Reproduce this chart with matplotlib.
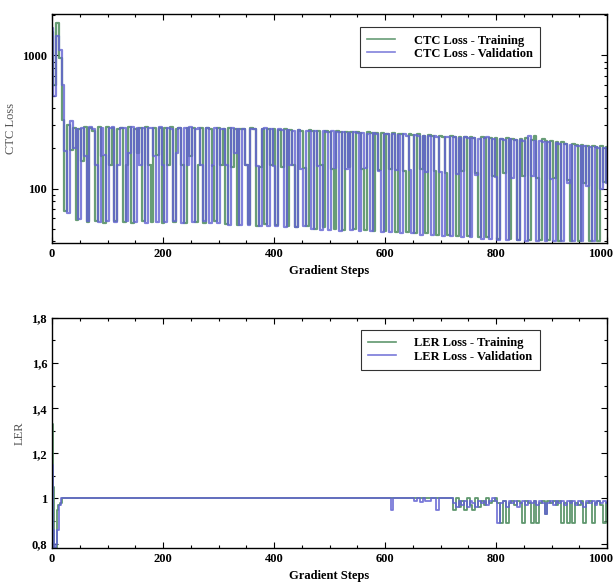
import numpy as np
import matplotlib.pyplot as plt
import matplotlib.transforms as mtransforms
from matplotlib.ticker import FuncFormatter, MultipleLocator, FixedLocator

plt.rcParams['font.family'] = ['Liberation Serif', 'DejaVu Serif']

# CTC loss read every 5 gradient steps
STEP = 5
ctc_train = [
    1500, 600, 1750, 950, 330, 68, 300, 195, 285, 58, 280, 160, 290, 56, 285, 270, 57, 288, 175, 55,
    288, 150, 286, 57, 282, 284, 56, 150, 288, 55, 282, 185, 286, 57, 290, 150, 56, 285, 180, 287,
    55, 284, 150, 288, 56, 282, 286, 150, 55, 283, 175, 287, 56, 150, 284, 55, 286, 282, 148, 57,
    283, 150, 280, 54, 284, 145, 282, 53, 278, 281, 150, 54, 283, 279, 52, 146, 282, 54, 280, 150,
    278, 53, 276, 145, 280, 52, 274, 150, 51, 277, 272, 143, 52, 275, 270, 50, 272, 150, 51, 270,
    268, 140, 50, 271, 266, 49, 268, 145, 264, 50, 267, 262, 140, 49, 265, 260, 48, 263, 138, 262,
    48, 258, 140, 260, 47, 255, 258, 135, 47, 256, 252, 46, 255, 140, 250, 46, 253, 248, 135, 45,
    250, 246, 130, 45, 248, 244, 44, 246, 135, 242, 44, 245, 240, 130, 43, 243, 238, 43, 240, 125,
    238, 42, 236, 130, 240, 42, 234, 232, 41, 235, 125, 238, 41, 230, 250, 120, 41, 235, 228, 41,
    226, 120, 224, 40, 222, 215, 115, 40, 218, 212, 40, 214, 110, 210, 40, 208, 205, 40, 207, 112,
    205,
]
ctc_val = [
    1600, 500, 1400, 1100, 600, 190, 65, 320, 200, 280, 59, 285, 175, 57, 290, 282, 150, 56, 286, 180,
    57, 284, 290, 56, 150, 287, 283, 57, 185, 289, 56, 284, 150, 287, 55, 283, 285, 175, 56, 288,
    150, 56, 285, 282, 57, 186, 287, 55, 284, 150, 288, 56, 280, 285, 150, 57, 284, 55, 150, 283,
    55, 280, 282, 150, 53, 283, 186, 279, 53, 281, 150, 53, 282, 278, 147, 52, 280, 283, 52, 278,
    148, 52, 279, 275, 51, 277, 150, 273, 51, 276, 140, 52, 273, 269, 50, 272, 148, 49, 270, 267,
    49, 269, 142, 265, 48, 267, 140, 263, 49, 264, 260, 48, 262, 142, 259, 48, 261, 257, 136, 47,
    259, 255, 47, 257, 138, 253, 46, 255, 250, 137, 46, 252, 248, 45, 250, 132, 247, 45, 249, 244,
    132, 44, 246, 242, 44, 244, 128, 240, 43, 242, 238, 43, 239, 126, 236, 42, 238, 245, 42, 235,
    122, 41, 236, 233, 41, 234, 120, 230, 41, 232, 228, 40, 248, 124, 226, 40, 228, 222, 40, 224,
    118, 40, 220, 216, 40, 218, 110, 212, 40, 210, 207, 40, 208, 105, 206, 40, 204, 200, 100, 203,
    110,
]

# LER (label error rate), recorded points
ler_train_steps = [0, 2, 4, 7, 10, 13, 16, 20, 720, 725, 730, 735, 740, 745, 750, 755, 760, 765,
                   770, 775, 780, 785, 790, 795, 800, 805, 810, 815, 820, 825, 830, 835, 840, 845,
                   850, 855, 860, 865, 870, 875, 880, 885, 890, 895, 900, 905, 910, 915, 920, 925,
                   930, 935, 940, 945, 950, 955, 960, 965, 970, 975, 980, 985, 990, 995, 1000]
ler_train = [1.33, 1.05, 0.78, 0.78, 0.95, 0.97, 0.98, 1.0, 1.0, 0.95, 1.0, 0.96, 0.99, 0.95,
             1.0, 0.97, 0.95, 1.0, 0.96, 0.99, 0.97, 1.0, 0.98, 0.99, 1.0, 0.98, 0.89, 0.99,
             0.89, 0.98, 0.99, 0.97, 0.99, 0.98, 0.89, 0.99, 0.98, 0.89, 0.99, 0.89, 0.98, 0.99,
             0.93, 0.99, 0.98, 0.99, 0.97, 0.99, 0.89, 0.98, 0.89, 0.99, 0.89, 0.98, 0.97, 0.99,
             0.89, 0.98, 0.99, 0.89, 0.98, 0.99, 0.97, 0.89, 0.98]
ler_val_steps = [0, 2, 5, 8, 11, 14, 18, 608, 612, 616, 650, 655, 660, 665, 670, 675, 690, 695,
                 700, 720, 725, 730, 735, 740, 745, 750, 755, 760, 765, 770, 775, 780, 785, 790,
                 795, 800, 805, 810, 815, 820, 825, 830, 835, 840, 845, 850, 855, 860, 865, 870,
                 875, 880, 885, 890, 895, 900, 905, 910, 915, 920, 925, 930, 935, 940, 945, 950,
                 955, 960, 965, 970, 975, 980, 985, 990, 995, 1000]
ler_val = [1.15, 0.86, 0.78, 0.80, 0.86, 0.97, 1.0, 1.0, 0.947, 1.0, 1.0, 0.99, 1.0, 0.985,
           1.0, 0.99, 1.0, 0.947, 1.0, 1.0, 0.98, 0.96, 0.99, 0.97, 0.99, 0.96, 0.99, 0.98,
           0.96, 0.99, 0.98, 0.99, 0.97, 0.99, 1.0, 0.99, 0.89, 0.98, 0.99, 0.96, 0.99, 0.98,
           0.99, 0.96, 0.98, 0.99, 0.97, 0.99, 0.98, 0.99, 0.97, 0.99, 0.98, 0.93, 0.98, 0.99,
           0.97, 0.99, 0.98, 0.99, 0.97, 0.99, 0.98, 0.99, 0.97, 0.99, 0.98, 0.96, 0.99, 0.98,
           0.99, 0.97, 0.99, 0.98, 0.99, 0.98]

GREEN = '#4e8c5e'
BLUE = '#6262d2'


def style_axes(fig, ax):
    ax.tick_params(which='both', direction='in', top=True, right=True,
                   labelsize=9, width=0.8)
    ax.tick_params(which='major', length=4)
    ax.tick_params(which='minor', length=2)
    for sp in ax.spines.values():
        sp.set_linewidth(1.0)
    ax.set_xlim(0, 1000)
    ax.xaxis.set_major_locator(FixedLocator([0, 200, 400, 600, 800, 1000]))
    ax.xaxis.set_minor_locator(MultipleLocator(50))
    ax.set_xlabel('Gradient Steps', fontsize=9, fontweight='bold', labelpad=4)
    fig.canvas.draw()
    for lab in ax.get_xticklabels() + ax.get_yticklabels():
        lab.set_fontweight('bold')
        # keep the last x label inside the figure
        if lab.get_text() == '1000' and lab in ax.get_xticklabels():
            lab.set_horizontalalignment('right')
            lab.set_transform(lab.get_transform() +
                              mtransforms.ScaledTranslation(4 / 72, 0, fig.dpi_scale_trans))


def make_legend(ax, y):
    leg = ax.legend(loc='upper right', bbox_to_anchor=(0.879, y), borderaxespad=0,
                    fancybox=False, edgecolor='black', handlelength=2.2,
                    prop={'size': 9, 'weight': 'bold'}, borderpad=0.6,
                    labelspacing=0.1, handletextpad=1.5)
    leg.get_frame().set_linewidth(0.8)
    for line in leg.get_lines():
        line.set_linewidth(1.2)


fig = plt.figure(figsize=(6.14, 5.84), dpi=100)
ax1 = fig.add_axes([0.0847, 0.584, 0.904, 0.392])
ax2 = fig.add_axes([0.0847, 0.0616, 0.904, 0.394])

steps = np.arange(len(ctc_train)) * STEP
ax1.plot(steps, ctc_train, color=GREEN, lw=1.6, alpha=0.85, drawstyle='steps-mid',
         label='CTC Loss - Training')
ax1.plot(steps, ctc_val, color=BLUE, lw=1.6, alpha=0.8, drawstyle='steps-mid',
         label='CTC Loss - Validation')
ax1.set_yscale('log')
ax1.set_ylim(39, 2050)
ax1.yaxis.set_major_locator(FixedLocator([100, 1000]))
ax1.yaxis.set_major_formatter(FuncFormatter(lambda v, p: '%d' % v))
ax1.set_ylabel('CTC Loss', fontsize=9, color='#555555')
make_legend(ax1, 0.943)

ax2.plot(ler_train_steps, ler_train, color=GREEN, lw=1.3, alpha=0.9, drawstyle='steps-mid',
         label='LER Loss - Training')
ax2.plot(ler_val_steps, ler_val, color=BLUE, lw=1.3, alpha=0.85, drawstyle='steps-mid',
         label='LER Loss - Validation')
ax2.set_ylim(0.78, 1.8)
ax2.yaxis.set_major_locator(FixedLocator([0.8, 1.0, 1.2, 1.4, 1.6, 1.8]))
ax2.yaxis.set_minor_locator(MultipleLocator(0.1))
ax2.yaxis.set_major_formatter(FuncFormatter(lambda v, p: ('%g' % round(v, 2)).replace('.', ',')))
ax2.set_ylabel('LER', fontsize=9, color='#555555')
make_legend(ax2, 0.948)

style_axes(fig, ax1)
style_axes(fig, ax2)

fig.savefig('out.png', dpi=100)
